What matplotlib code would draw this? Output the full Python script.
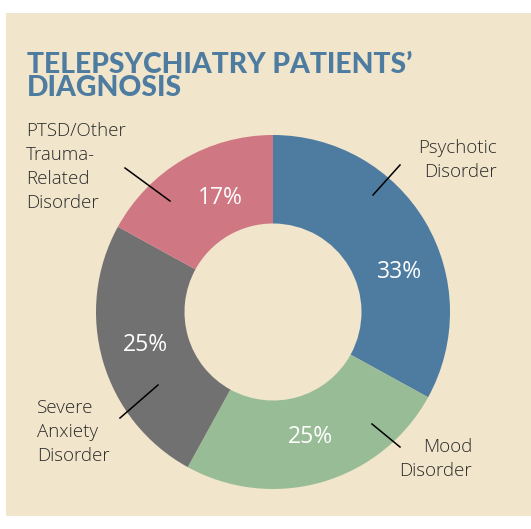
import matplotlib.pyplot as plt
from matplotlib.patches import Rectangle

# data
categories = ["Psychotic\nDisorder", "Mood\nDisorder", "Severe\nAnxiety\nDisorder",
              "PTSD/Other\nTrauma-\nRelated\nDisorder"]
shares = [33, 25, 25, 17]
pct_labels = ["33%", "25%", "25%", "17%"]
colors = ["#4E7CA1", "#98BD96", "#727172", "#D07784"]

W, H = 531, 529
BG = "#F1E5CB"

fig = plt.figure(figsize=(W / 100, H / 100), dpi=100)
ax = fig.add_axes([0, 0, 1, 1])

def py(y):
    # image pixel row -> data y
    return H - y

cx, cy, r = 273, py(312), 177
ax.pie(shares, colors=colors, startangle=90, counterclock=False,
       center=(cx, cy), radius=r, wedgeprops=dict(width=r * 0.5, linewidth=0))

ax.add_patch(Rectangle((6, py(516)), W - 6, 503, facecolor=BG, edgecolor="none", zorder=0))

ax.set_xlim(0, W)
ax.set_ylim(0, H)
ax.set_aspect("equal")
ax.axis("off")

# percentages inside ring
pct_pos = [(400, 272), (310, 437), (145, 345), (220, 198)]
for txt, (x, y) in zip(pct_labels, pct_pos):
    ax.text(x, py(y), txt, color="white", fontsize=16.5, family="Open Sans",
            ha="center", va="center")

# outer labels with leader lines
lab_pos = [(497, 160, "right"), (472, 459, "right"),
           (37, 432, "left"), (26, 167, "left")]
leaders = [((373, 195), (400, 165)), ((372, 424), (400, 447)),
           ((120, 418), (158, 385)), ((125, 168), (170, 201))]
for name, (x, y, ha), (p0, p1) in zip(categories, lab_pos, leaders):
    ax.text(x, py(y), name, color="#2B2B2B", fontsize=13.5, family="Open Sans",
            weight="light", ha=ha, va="center", multialignment=ha, linespacing=1.42)
    ax.plot([p0[0], p1[0]], [py(p0[1]), py(p1[1])], color="black", lw=1.1)

ax.text(27, py(52), "TELEPSYCHIATRY PATIENTS\u2019\nDIAGNOSIS", color="#4E7CA1",
        fontsize=20.3, family="Lato", weight="black", ha="left", va="top",
        linespacing=0.88)

fig.savefig("out.png", dpi=100, facecolor="white")
